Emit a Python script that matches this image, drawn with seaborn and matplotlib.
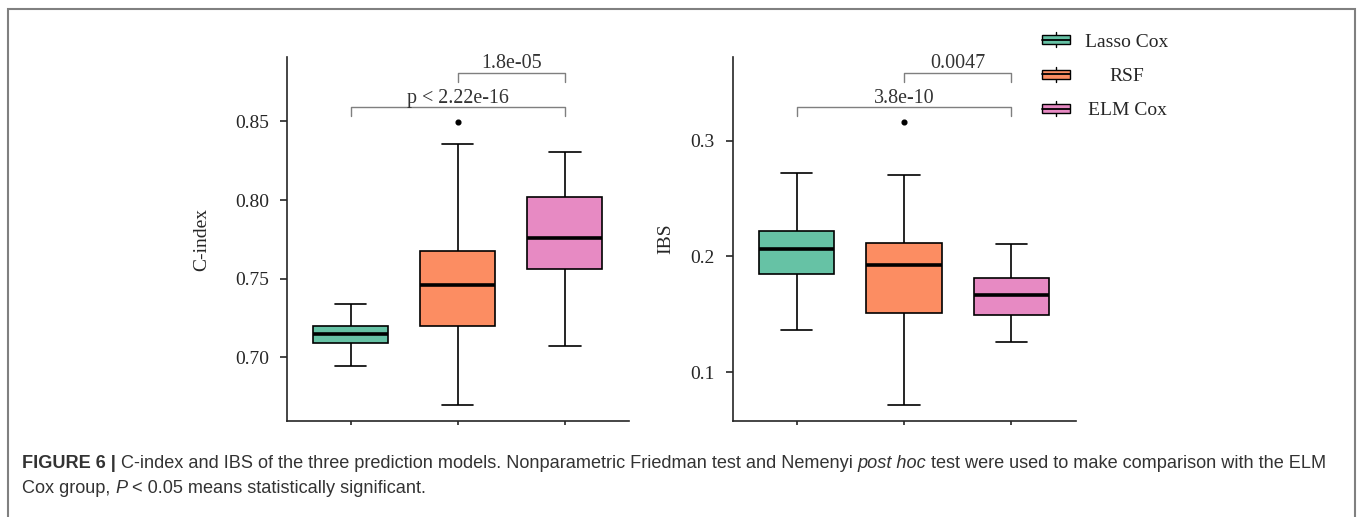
import matplotlib
matplotlib.use("Agg")
import matplotlib.pyplot as plt
import matplotlib.patches as mpatches
import matplotlib.transforms as mtransforms
from matplotlib.legend_handler import HandlerBase
from matplotlib.lines import Line2D
from matplotlib.text import Annotation
import pandas as pd
import seaborn as sns

# 模型与配色
models = ["Lasso Cox", "RSF", "ELM Cox"]
colors = ["#66C2A5", "#FC8D62", "#E78AC3"]

# C-index 箱线图五数概括
cidx_low = [0.6945, 0.6697, 0.7072]
cidx_q1 = [0.7091, 0.7200, 0.7564]
cidx_med = [0.7150, 0.7457, 0.7756]
cidx_q3 = [0.7201, 0.7676, 0.8019]
cidx_high = [0.7337, 0.8356, 0.8303]
cidx_outlier = [None, 0.8496, None]

# IBS 箱线图五数概括
ibs_low = [0.1363, 0.0717, 0.1260]
ibs_q1 = [0.1850, 0.1510, 0.1498]
ibs_med = [0.2063, 0.1925, 0.1666]
ibs_q3 = [0.2219, 0.2118, 0.1816]
ibs_high = [0.2723, 0.2700, 0.2110]
ibs_outlier = [None, 0.3162, None]

# 显著性标注：(组1, 组2, 文字)
cidx_pairs = [("Lasso Cox", "ELM Cox", "p < 2.22e-16"), ("RSF", "ELM Cox", "1.8e-05")]
cidx_bracket_y = [0.8589, 0.8808]
cidx_bracket_drop = [0.0055, 0.0057]
ibs_pairs = [("Lasso Cox", "ELM Cox", "3.8e-10"), ("RSF", "ELM Cox", "0.0047")]
ibs_bracket_y = [0.3288, 0.3585]
ibs_bracket_drop = [0.0072, 0.0078]


def long_table(low, q1, med, q3, high, outlier):
    # 9 个点：四分位数/须线与读取的五数概括一致
    rows = []
    for i, m in enumerate(models):
        extra = outlier[i] if outlier[i] is not None else high[i]
        for v in [low[i], q1[i], q1[i], med[i], med[i], q3[i], q3[i], high[i], extra]:
            rows.append((m, v))
    return pd.DataFrame(rows, columns=["model", "value"])


df_cidx = long_table(cidx_low, cidx_q1, cidx_med, cidx_q3, cidx_high, cidx_outlier)
df_ibs = long_table(ibs_low, ibs_q1, ibs_med, ibs_q3, ibs_high, ibs_outlier)

sns.set_style("ticks")
plt.rcParams["font.family"] = ["Liberation Serif", "DejaVu Serif"]

fig = plt.figure(figsize=(13.57, 5.17), dpi=100)
ax1 = fig.add_axes([0.2115, 0.1857, 0.2522, 0.704])
ax2 = fig.add_axes([0.5399, 0.1857, 0.2530, 0.704])


def draw_panel(ax, df, ylabel, ylim, yticks, fmt, pairs, bracket_y, bracket_drop, label_x):
    sns.boxplot(
        data=df, x="model", y="value", hue="model",
        order=models, hue_order=models, palette=colors, saturation=1,
        width=0.7, linewidth=1.2, linecolor="black", fliersize=3.4,
        capwidths=0.29,
        medianprops=dict(linewidth=2.6, color="black"),
        flierprops=dict(marker="o", markerfacecolor="black", markeredgecolor="black"),
        legend=False, ax=ax,
    )
    ax.set_xlim(-0.595, 2.6)
    ax.set_ylim(*ylim)
    ax.set_yticks(yticks)
    ax.set_yticklabels([fmt.format(v) for v in yticks])
    ax.set_xlabel("")
    ax.set_ylabel(ylabel, fontsize=14)
    ax.yaxis.set_label_coords(label_x, 0.5)
    sns.despine(ax=ax)
    for s in ["left", "bottom"]:
        ax.spines[s].set_linewidth(1.2)
    ax.tick_params(axis="y", length=5, width=1.2, labelsize=14, pad=8)
    ax.tick_params(axis="x", length=3, width=1.2, labelbottom=False)

    for (a, b, text), y, drop in zip(pairs, bracket_y, bracket_drop):
        i, j = models.index(a), models.index(b)
        ax.plot([i, i, j, j], [y - drop, y, y, y - drop], color="#7f7f7f", lw=1.0, clip_on=False)
        ax.annotate(text, xy=((i + j) / 2, y), xytext=(0, 3.5), textcoords="offset points",
                    ha="center", va="baseline", fontsize=14.4, color="#333333", annotation_clip=False)


draw_panel(ax1, df_cidx, "C-index", (0.6595, 0.891), [0.70, 0.75, 0.80, 0.85], "{:.2f}",
           cidx_pairs, cidx_bracket_y, cidx_bracket_drop, -0.224)
draw_panel(ax2, df_ibs, "IBS", (0.0579, 0.3723), [0.1, 0.2, 0.3], "{:.1f}",
           ibs_pairs, ibs_bracket_y, ibs_bracket_drop, -0.171)


# 图例：小箱线图图标
class BoxIcon(HandlerBase):
    def create_artists(self, legend, orig_handle, xdescent, ydescent, width, height, fontsize, trans):
        h = height * 0.65
        x0 = -xdescent
        y0 = (height - h) / 2 - ydescent
        fc = orig_handle.get_facecolor()
        stub = Line2D([x0 + width / 2] * 2, [y0 - h * 0.35, y0 + h * 1.35], color="black", lw=1.0, transform=trans)
        rect = mpatches.Rectangle((x0, y0), width, h, facecolor=fc, edgecolor="black", lw=1.0, transform=trans)
        mid = Line2D([x0, x0 + width], [y0 + h / 2] * 2, color="black", lw=1.3, transform=trans)
        return [stub, rect, mid]


handles = [mpatches.Patch(facecolor=c, edgecolor="black") for c in colors]
leg = fig.legend(handles, models, handler_map={mpatches.Patch: BoxIcon()},
                 loc="upper left", bbox_to_anchor=(0.7676, 0.936), frameon=False,
                 fontsize=14, handlelength=1.45, handletextpad=0.8, labelspacing=0.86,
                 borderpad=0, borderaxespad=0)

# 图例文字居中对齐
fig.canvas.draw()
renderer = fig.canvas.get_renderer()
widths = [t.get_window_extent(renderer).width for t in leg.get_texts()]
for t, w in zip(leg.get_texts(), widths):
    t.set_transform(t.get_transform() + mtransforms.Affine2D().translate((max(widths) - w) / 2, 0))

# 外框
fig.add_artist(mpatches.Rectangle((7.5 / 1357, -0.05), (1355 - 7.5) / 1357, (517 - 9) / 517 + 0.05,
                                  transform=fig.transFigure, fill=False, edgecolor="#808080",
                                  lw=1.5, clip_on=False))

# 图注
cap_kw = dict(fontsize=13.1, color="#333333", family=["Liberation Sans", "DejaVu Sans"])
line1 = [("FIGURE 6 | ", dict(weight="bold")),
         ("C-index and IBS of the three prediction models. Nonparametric Friedman test and Nemenyi ", {}),
         ("post hoc", dict(style="italic")),
         (" test were used to make comparison with the ELM", {})]
line2 = [("Cox group, ", {}), ("P", dict(style="italic")), (" < 0.05 means statistically significant.", {})]


def caption_line(pieces, x, y):
    prev = fig.text(x, y, pieces[0][0], va="bottom", **cap_kw, **pieces[0][1])
    for text, style in pieces[1:]:
        prev = fig.add_artist(Annotation(text, xy=(1, 0), xycoords=prev, xytext=(0, 0),
                                         textcoords="offset points", va="bottom", **cap_kw, **style))


caption_line(line1, 22 / 1357, 0.087)
caption_line(line2, 22 / 1357, 0.039)

fig.savefig("out.png", dpi=100)
